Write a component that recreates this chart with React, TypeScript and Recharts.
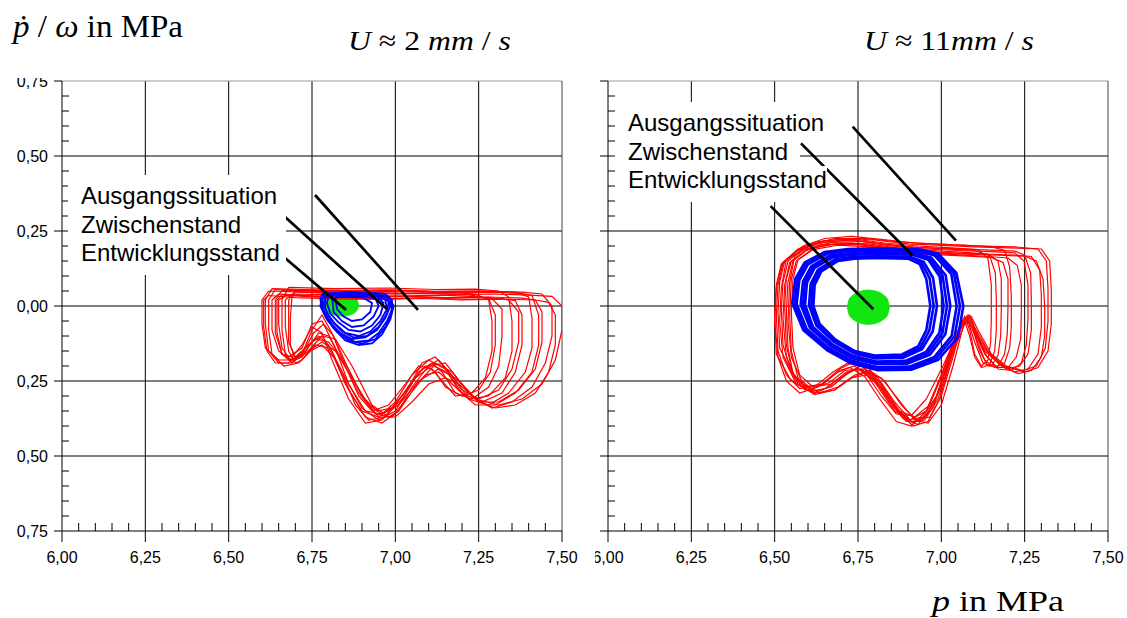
import React from 'react';
import { ComposedChart, Line, Area, XAxis, YAxis, CartesianGrid, ReferenceLine } from 'recharts';

type Pt = [number, number];

// axis ticks (every 0.05, labelled every 0.25)
const xTicks = [
  6.0, 6.05, 6.1, 6.15, 6.2, 6.25, 6.3, 6.35, 6.4, 6.45, 6.5, 6.55, 6.6, 6.65, 6.7, 6.75,
  6.8, 6.85, 6.9, 6.95, 7.0, 7.05, 7.1, 7.15, 7.2, 7.25, 7.3, 7.35, 7.4, 7.45, 7.5,
];
const yTicks = [
  -0.75, -0.7, -0.65, -0.6, -0.55, -0.5, -0.45, -0.4, -0.35, -0.3, -0.25, -0.2, -0.15, -0.1, -0.05, 0,
  0.05, 0.1, 0.15, 0.2, 0.25, 0.3, 0.35, 0.4, 0.45, 0.5, 0.55, 0.6, 0.65, 0.7, 0.75,
];
const gridX = [6.25, 6.5, 6.75, 7.0, 7.25];
const gridY = [-0.5, -0.25, 0, 0.25, 0.5];

const noteLabels = ['Ausgangssituation', 'Zwischenstand', 'Entwicklungsstand'];

// ---- U ~ 2 mm/s : Ausgangssituation (red)
const leftRed1: Pt[] = [[6.62,0.05],[6.7,0.047],[6.8,0.043],[6.9,0.045],[7.0,0.04],[7.1,0.042],[7.2,0.038],[7.3,0.04],[7.4,0.036],[7.47,0.032],[7.5,0.0],[7.5,-0.08],[7.48,-0.18],[7.44,-0.26],[7.38,-0.31],[7.31,-0.33],[7.24,-0.31],[7.18,-0.24],[7.13,-0.21],[7.07,-0.25],[7.01,-0.33],[6.96,-0.36],[6.92,-0.33],[6.87,-0.24],[6.82,-0.15],[6.78,-0.12],[6.74,-0.15],[6.7,-0.18],[6.65,-0.18],[6.61,-0.14],[6.6,-0.06],[6.6,0.02],[6.62,0.05]];
const leftRed2: Pt[] = [[6.63,0.058],[6.72,0.055],[6.85,0.052],[6.98,0.054],[7.12,0.049],[7.25,0.05],[7.38,0.046],[7.44,0.04],[7.47,0.0],[7.47,-0.1],[7.45,-0.19],[7.41,-0.27],[7.35,-0.32],[7.29,-0.34],[7.23,-0.3],[7.17,-0.22],[7.12,-0.19],[7.06,-0.24],[7.0,-0.35],[6.95,-0.38],[6.9,-0.34],[6.85,-0.24],[6.8,-0.13],[6.77,-0.1],[6.73,-0.14],[6.69,-0.19],[6.65,-0.19],[6.62,-0.15],[6.61,-0.06],[6.61,0.02],[6.63,0.058]];
const leftRed3: Pt[] = [[6.65,0.04],[6.75,0.034],[6.88,0.03],[7.0,0.033],[7.15,0.028],[7.28,0.03],[7.38,0.026],[7.42,0.02],[7.44,-0.02],[7.44,-0.12],[7.42,-0.21],[7.37,-0.28],[7.31,-0.32],[7.25,-0.32],[7.2,-0.26],[7.15,-0.19],[7.1,-0.2],[7.05,-0.27],[7.01,-0.35],[6.98,-0.37],[6.93,-0.33],[6.87,-0.2],[6.82,-0.11],[6.78,-0.1],[6.73,-0.16],[6.68,-0.18],[6.65,-0.15],[6.63,-0.08],[6.63,0.02],[6.65,0.04]];
const leftRed4: Pt[] = [[6.66,0.052],[6.78,0.05],[6.92,0.047],[7.05,0.05],[7.18,0.045],[7.3,0.046],[7.37,0.042],[7.4,0.03],[7.41,-0.04],[7.41,-0.14],[7.39,-0.22],[7.34,-0.29],[7.28,-0.33],[7.22,-0.31],[7.17,-0.23],[7.13,-0.18],[7.08,-0.21],[7.02,-0.3],[6.96,-0.38],[6.91,-0.39],[6.86,-0.31],[6.81,-0.18],[6.78,-0.09],[6.75,-0.07],[6.72,-0.13],[6.69,-0.17],[6.66,-0.16],[6.64,-0.09],[6.64,0.02],[6.66,0.052]];
const leftRed5: Pt[] = [[6.67,0.035],[6.8,0.028],[6.95,0.024],[7.1,0.027],[7.22,0.022],[7.32,0.024],[7.36,0.018],[7.38,-0.03],[7.38,-0.13],[7.36,-0.22],[7.32,-0.29],[7.26,-0.32],[7.2,-0.29],[7.15,-0.21],[7.1,-0.18],[7.05,-0.23],[7.0,-0.32],[6.96,-0.36],[6.91,-0.35],[6.86,-0.26],[6.82,-0.14],[6.78,-0.05],[6.75,-0.06],[6.72,-0.14],[6.68,-0.17],[6.66,-0.14],[6.65,-0.06],[6.65,0.02],[6.67,0.035]];
const leftRed6: Pt[] = [[6.68,0.062],[6.82,0.058],[6.98,0.06],[7.12,0.055],[7.24,0.056],[7.31,0.05],[7.34,0.03],[7.35,-0.05],[7.35,-0.15],[7.33,-0.24],[7.28,-0.3],[7.22,-0.31],[7.17,-0.26],[7.13,-0.22],[7.09,-0.23],[7.04,-0.3],[6.99,-0.37],[6.94,-0.36],[6.89,-0.29],[6.84,-0.18],[6.8,-0.1],[6.77,-0.09],[6.73,-0.15],[6.69,-0.19],[6.67,-0.16],[6.66,-0.08],[6.66,0.02],[6.68,0.062]];
const leftRed7: Pt[] = [[6.69,0.04],[6.84,0.036],[7.0,0.033],[7.14,0.036],[7.24,0.031],[7.29,0.025],[7.32,-0.01],[7.32,-0.1],[7.31,-0.2],[7.28,-0.27],[7.23,-0.31],[7.18,-0.29],[7.14,-0.22],[7.11,-0.19],[7.07,-0.22],[7.02,-0.31],[6.97,-0.37],[6.92,-0.38],[6.88,-0.33],[6.84,-0.22],[6.8,-0.14],[6.76,-0.13],[6.72,-0.18],[6.7,-0.19],[6.68,-0.15],[6.67,-0.07],[6.67,0.02],[6.69,0.04]];
const leftRed8: Pt[] = [[6.7,0.05],[6.86,0.046],[7.02,0.043],[7.16,0.045],[7.24,0.04],[7.28,0.02],[7.29,-0.05],[7.29,-0.15],[7.27,-0.24],[7.23,-0.29],[7.18,-0.3],[7.14,-0.25],[7.11,-0.21],[7.07,-0.2],[7.03,-0.26],[6.98,-0.33],[6.93,-0.35],[6.89,-0.3],[6.85,-0.2],[6.81,-0.09],[6.78,-0.03],[6.75,-0.08],[6.72,-0.16],[6.7,-0.17],[6.68,-0.12],[6.68,0.02],[6.7,0.05]];
const leftRed9: Pt[] = [[6.62,0.035],[6.7,0.028],[6.82,0.024],[6.95,0.022],[7.08,0.025],[7.2,0.02],[7.32,0.023],[7.42,0.02],[7.46,0.012],[7.48,-0.03],[7.48,-0.13],[7.46,-0.22],[7.42,-0.29],[7.36,-0.33],[7.3,-0.34],[7.25,-0.32],[7.19,-0.26],[7.15,-0.24],[7.1,-0.26],[7.05,-0.32],[7.0,-0.37],[6.95,-0.37],[6.9,-0.3],[6.85,-0.19],[6.8,-0.12],[6.76,-0.11],[6.72,-0.15],[6.68,-0.19],[6.64,-0.19],[6.615,-0.15],[6.605,-0.07],[6.605,0.02],[6.62,0.035]];
const leftRed10: Pt[] = [[6.64,0.055],[6.74,0.053],[6.86,0.05],[6.99,0.052],[7.12,0.048],[7.25,0.05],[7.36,0.046],[7.41,0.035],[7.43,-0.03],[7.43,-0.13],[7.41,-0.22],[7.36,-0.29],[7.3,-0.33],[7.24,-0.33],[7.19,-0.28],[7.155,-0.22],[7.115,-0.2],[7.065,-0.26],[7.01,-0.35],[6.96,-0.39],[6.91,-0.37],[6.86,-0.28],[6.815,-0.17],[6.78,-0.13],[6.745,-0.15],[6.71,-0.19],[6.665,-0.2],[6.63,-0.16],[6.62,-0.08],[6.62,0.02],[6.64,0.055]];
const leftRed11: Pt[] = [[6.66,0.038],[6.77,0.032],[6.9,0.029],[7.03,0.032],[7.16,0.027],[7.28,0.029],[7.34,0.02],[7.37,-0.02],[7.37,-0.12],[7.35,-0.21],[7.31,-0.28],[7.25,-0.31],[7.2,-0.28],[7.16,-0.22],[7.12,-0.17],[7.08,-0.19],[7.04,-0.27],[6.99,-0.34],[6.945,-0.35],[6.9,-0.3],[6.855,-0.2],[6.815,-0.1],[6.785,-0.06],[6.755,-0.09],[6.725,-0.15],[6.69,-0.18],[6.66,-0.16],[6.645,-0.09],[6.645,0.02],[6.66,0.038]];
const leftRed12: Pt[] = [[6.7,0.048],[6.82,0.042],[6.96,0.04],[7.1,0.043],[7.22,0.038],[7.28,0.025],[7.3,-0.03],[7.3,-0.13],[7.285,-0.22],[7.25,-0.28],[7.2,-0.3],[7.15,-0.27],[7.12,-0.22],[7.09,-0.2],[7.05,-0.25],[7.0,-0.33],[6.95,-0.37],[6.9,-0.35],[6.85,-0.26],[6.81,-0.15],[6.78,-0.1],[6.75,-0.12],[6.72,-0.17],[6.7,-0.18],[6.685,-0.13],[6.685,-0.04],[6.69,0.03],[6.7,0.048]];

// ---- U ~ 2 mm/s : Zwischenstand (blue)
const leftBlue1: Pt[] = [[6.78,0.04],[6.85,0.045],[6.92,0.045],[6.97,0.04],[6.99,0.02],[6.99,-0.01],[6.975,-0.05],[6.95,-0.09],[6.92,-0.115],[6.88,-0.12],[6.84,-0.1],[6.81,-0.06],[6.785,-0.02],[6.775,0.02],[6.78,0.04]];
const leftBlue2: Pt[] = [[6.785,0.04],[6.86,0.045],[6.93,0.042],[6.975,0.03],[6.985,0.0],[6.97,-0.04],[6.945,-0.08],[6.91,-0.105],[6.87,-0.11],[6.835,-0.09],[6.805,-0.055],[6.785,-0.015],[6.78,0.02],[6.785,0.04]];
const leftBlue3: Pt[] = [[6.79,0.04],[6.87,0.04],[6.94,0.038],[6.97,0.02],[6.975,-0.01],[6.955,-0.05],[6.925,-0.085],[6.89,-0.1],[6.85,-0.09],[6.82,-0.06],[6.795,-0.025],[6.785,0.01],[6.79,0.04]];
const leftBlue4: Pt[] = [[6.8,0.038],[6.88,0.04],[6.945,0.033],[6.965,0.01],[6.955,-0.03],[6.93,-0.065],[6.895,-0.085],[6.86,-0.08],[6.83,-0.055],[6.805,-0.025],[6.795,0.01],[6.8,0.038]];
const leftBlue5: Pt[] = [[6.78,0.035],[6.84,0.04],[6.93,0.04],[6.98,0.03],[6.995,0.0],[6.985,-0.045],[6.96,-0.095],[6.93,-0.125],[6.89,-0.13],[6.85,-0.115],[6.815,-0.075],[6.79,-0.035],[6.775,0.0],[6.78,0.035]];
const leftBlue6: Pt[] = [[6.79,0.035],[6.86,0.038],[6.95,0.036],[6.98,0.015],[6.975,-0.025],[6.95,-0.07],[6.915,-0.1],[6.875,-0.105],[6.84,-0.085],[6.81,-0.05],[6.79,-0.01],[6.79,0.035]];
const leftBlue7: Pt[] = [[6.81,0.035],[6.89,0.036],[6.94,0.025],[6.95,0.0],[6.935,-0.035],[6.905,-0.065],[6.87,-0.07],[6.84,-0.05],[6.815,-0.02],[6.81,0.035]];
const leftBlue8: Pt[] = [[6.82,0.03],[6.9,0.03],[6.93,0.01],[6.925,-0.02],[6.9,-0.045],[6.87,-0.05],[6.845,-0.035],[6.825,-0.01],[6.82,0.03]];
const leftBlue9: Pt[] = [[6.78,0.03],[6.85,0.042],[6.94,0.042],[6.985,0.025],[6.99,-0.02],[6.97,-0.07],[6.94,-0.11],[6.9,-0.125],[6.86,-0.115],[6.825,-0.085],[6.795,-0.045],[6.78,0.0],[6.78,0.03]];

// ---- U ~ 2 mm/s : Entwicklungsstand (green, filled)
const leftGreenX = [6.79, 6.795, 6.805, 6.82, 6.84, 6.86, 6.875, 6.885, 6.89];
const leftGreenLo = [0.003, -0.014, -0.024, -0.031, -0.034, -0.031, -0.024, -0.014, 0.003];
const leftGreenHi = [0.003, 0.02, 0.03, 0.037, 0.04, 0.037, 0.03, 0.02, 0.003];

const leftLeaderA: Pt[] = [[6.759, 0.37], [7.068, -0.013]];
const leftLeaderZ: Pt[] = [[6.666, 0.3], [6.975, -0.01]];
const leftLeaderE: Pt[] = [[6.669, 0.16], [6.852, -0.013]];

// ---- U ~ 11 mm/s : Ausgangssituation (red)
const rightRed1: Pt[] = [[6.52,0.14],[6.57,0.19],[6.63,0.215],[6.72,0.225],[6.8,0.22],[6.9,0.207],[7.0,0.202],[7.1,0.197],[7.2,0.194],[7.3,0.19],[7.325,0.15],[7.33,0.05],[7.33,-0.06],[7.32,-0.15],[7.29,-0.205],[7.25,-0.22],[7.19,-0.2],[7.13,-0.15],[7.09,-0.05],[7.07,-0.06],[7.03,-0.17],[6.99,-0.31],[6.95,-0.38],[6.91,-0.385],[6.86,-0.32],[6.81,-0.24],[6.76,-0.2],[6.72,-0.22],[6.67,-0.27],[6.61,-0.285],[6.55,-0.25],[6.505,-0.16],[6.5,-0.03],[6.505,0.07],[6.52,0.14]];
const rightRed2: Pt[] = [[6.53,0.15],[6.58,0.185],[6.64,0.205],[6.73,0.21],[6.82,0.195],[6.92,0.182],[7.02,0.178],[7.12,0.173],[7.22,0.17],[7.27,0.165],[7.295,0.12],[7.3,0.04],[7.3,-0.07],[7.29,-0.16],[7.26,-0.21],[7.22,-0.22],[7.17,-0.19],[7.12,-0.13],[7.085,-0.04],[7.065,-0.07],[7.035,-0.2],[7.0,-0.33],[6.96,-0.39],[6.92,-0.38],[6.87,-0.31],[6.82,-0.24],[6.775,-0.22],[6.73,-0.24],[6.68,-0.28],[6.62,-0.29],[6.56,-0.24],[6.515,-0.14],[6.51,-0.02],[6.515,0.08],[6.53,0.15]];
const rightRed3: Pt[] = [[6.54,0.15],[6.59,0.195],[6.66,0.215],[6.74,0.22],[6.83,0.205],[6.93,0.195],[7.03,0.191],[7.13,0.187],[7.22,0.183],[7.25,0.17],[7.268,0.11],[7.27,0.02],[7.27,-0.08],[7.26,-0.16],[7.235,-0.2],[7.195,-0.21],[7.15,-0.17],[7.11,-0.1],[7.08,-0.03],[7.055,-0.08],[7.01,-0.21],[6.965,-0.33],[6.92,-0.37],[6.875,-0.35],[6.83,-0.28],[6.785,-0.21],[6.74,-0.185],[6.695,-0.21],[6.645,-0.26],[6.59,-0.27],[6.55,-0.22],[6.525,-0.13],[6.52,-0.01],[6.525,0.08],[6.54,0.15]];
const rightRed4: Pt[] = [[6.55,0.15],[6.6,0.19],[6.67,0.205],[6.75,0.205],[6.84,0.19],[6.94,0.177],[7.04,0.171],[7.14,0.165],[7.2,0.16],[7.228,0.135],[7.24,0.07],[7.24,-0.02],[7.238,-0.11],[7.225,-0.17],[7.2,-0.205],[7.165,-0.205],[7.13,-0.16],[7.1,-0.09],[7.075,-0.035],[7.055,-0.08],[7.015,-0.21],[6.975,-0.34],[6.93,-0.395],[6.885,-0.375],[6.835,-0.3],[6.79,-0.225],[6.745,-0.21],[6.695,-0.24],[6.645,-0.28],[6.59,-0.28],[6.555,-0.23],[6.535,-0.13],[6.53,0.0],[6.535,0.09],[6.55,0.15]];
const rightRed5: Pt[] = [[6.56,0.165],[6.61,0.205],[6.68,0.225],[6.77,0.225],[6.86,0.215],[6.96,0.208],[7.06,0.203],[7.15,0.198],[7.19,0.185],[7.205,0.13],[7.21,0.03],[7.21,-0.07],[7.205,-0.14],[7.19,-0.19],[7.16,-0.205],[7.13,-0.18],[7.105,-0.11],[7.08,-0.04],[7.06,-0.05],[7.04,-0.15],[7.0,-0.3],[6.965,-0.37],[6.925,-0.38],[6.88,-0.33],[6.83,-0.25],[6.785,-0.215],[6.74,-0.23],[6.69,-0.27],[6.635,-0.29],[6.585,-0.26],[6.55,-0.17],[6.54,-0.05],[6.545,0.08],[6.56,0.165]];
const rightRed6: Pt[] = [[6.57,0.155],[6.62,0.195],[6.7,0.21],[6.78,0.207],[6.87,0.193],[6.97,0.185],[7.07,0.179],[7.14,0.173],[7.17,0.15],[7.18,0.09],[7.18,-0.01],[7.178,-0.1],[7.17,-0.165],[7.15,-0.2],[7.125,-0.19],[7.1,-0.12],[7.08,-0.05],[7.06,-0.06],[7.025,-0.17],[6.985,-0.3],[6.945,-0.37],[6.9,-0.38],[6.855,-0.33],[6.805,-0.25],[6.76,-0.21],[6.715,-0.22],[6.67,-0.26],[6.615,-0.27],[6.575,-0.23],[6.555,-0.14],[6.55,-0.02],[6.555,0.09],[6.57,0.155]];
const rightRed7: Pt[] = [[6.525,0.145],[6.575,0.19],[6.65,0.218],[6.74,0.223],[6.83,0.21],[6.93,0.2],[7.03,0.194],[7.11,0.188],[7.14,0.158],[7.15,0.07],[7.15,-0.04],[7.148,-0.12],[7.14,-0.18],[7.12,-0.2],[7.1,-0.16],[7.085,-0.08],[7.07,-0.035],[7.05,-0.08],[7.0,-0.23],[6.955,-0.35],[6.905,-0.38],[6.86,-0.35],[6.81,-0.27],[6.765,-0.2],[6.72,-0.19],[6.675,-0.22],[6.625,-0.265],[6.575,-0.275],[6.535,-0.23],[6.51,-0.15],[6.505,-0.03],[6.51,0.07],[6.525,0.145]];
const rightRed8: Pt[] = [[6.545,0.145],[6.595,0.185],[6.66,0.205],[6.75,0.208],[6.85,0.193],[6.95,0.178],[7.05,0.174],[7.15,0.17],[7.25,0.166],[7.285,0.15],[7.305,0.09],[7.31,0.0],[7.31,-0.1],[7.3,-0.17],[7.27,-0.215],[7.23,-0.225],[7.18,-0.2],[7.14,-0.15],[7.1,-0.07],[7.085,-0.03],[7.065,-0.05],[7.03,-0.17],[6.995,-0.31],[6.96,-0.385],[6.915,-0.4],[6.87,-0.35],[6.82,-0.27],[6.775,-0.23],[6.73,-0.24],[6.68,-0.28],[6.62,-0.295],[6.57,-0.26],[6.535,-0.17],[6.525,-0.04],[6.53,0.07],[6.545,0.145]];
const rightRed9: Pt[] = [[6.535,0.155],[6.585,0.2],[6.65,0.225],[6.73,0.232],[6.82,0.222],[6.92,0.21],[7.02,0.205],[7.12,0.2],[7.22,0.197],[7.29,0.19],[7.315,0.15],[7.32,0.06],[7.32,-0.05],[7.312,-0.14],[7.285,-0.2],[7.245,-0.215],[7.195,-0.2],[7.15,-0.16],[7.11,-0.08],[7.09,-0.035],[7.07,-0.045],[7.035,-0.14],[6.995,-0.28],[6.955,-0.365],[6.915,-0.39],[6.87,-0.345],[6.82,-0.26],[6.77,-0.21],[6.73,-0.215],[6.68,-0.26],[6.62,-0.29],[6.565,-0.26],[6.525,-0.17],[6.515,-0.05],[6.52,0.06],[6.535,0.155]];
const rightRed10: Pt[] = [[6.555,0.15],[6.6,0.19],[6.67,0.212],[6.76,0.215],[6.85,0.2],[6.95,0.19],[7.05,0.185],[7.15,0.181],[7.22,0.177],[7.248,0.15],[7.26,0.07],[7.26,-0.04],[7.255,-0.13],[7.24,-0.19],[7.21,-0.215],[7.17,-0.21],[7.135,-0.165],[7.105,-0.095],[7.08,-0.045],[7.055,-0.075],[7.005,-0.2],[6.955,-0.31],[6.91,-0.365],[6.865,-0.36],[6.82,-0.3],[6.78,-0.235],[6.74,-0.2],[6.695,-0.215],[6.645,-0.26],[6.59,-0.27],[6.555,-0.225],[6.54,-0.14],[6.535,-0.02],[6.54,0.08],[6.555,0.15]];
const rightRed11: Pt[] = [[6.565,0.15],[6.615,0.188],[6.69,0.203],[6.775,0.198],[6.865,0.183],[6.965,0.172],[7.065,0.167],[7.15,0.162],[7.185,0.145],[7.2,0.09],[7.2,0.0],[7.198,-0.09],[7.19,-0.16],[7.17,-0.2],[7.14,-0.2],[7.115,-0.15],[7.095,-0.08],[7.075,-0.04],[7.055,-0.07],[7.02,-0.19],[6.98,-0.32],[6.94,-0.385],[6.895,-0.385],[6.85,-0.33],[6.8,-0.25],[6.755,-0.21],[6.71,-0.215],[6.665,-0.255],[6.61,-0.275],[6.57,-0.24],[6.55,-0.15],[6.545,-0.03],[6.55,0.09],[6.565,0.15]];
const rightRed12: Pt[] = [[6.52,0.135],[6.565,0.183],[6.635,0.21],[6.725,0.22],[6.815,0.208],[6.915,0.196],[7.015,0.19],[7.1,0.185],[7.145,0.168],[7.162,0.11],[7.165,0.02],[7.165,-0.08],[7.16,-0.15],[7.145,-0.195],[7.12,-0.205],[7.1,-0.17],[7.085,-0.1],[7.07,-0.05],[7.045,-0.1],[7.0,-0.23],[6.955,-0.35],[6.91,-0.4],[6.865,-0.385],[6.815,-0.31],[6.77,-0.235],[6.725,-0.205],[6.68,-0.225],[6.63,-0.27],[6.575,-0.29],[6.535,-0.25],[6.51,-0.17],[6.5,-0.05],[6.505,0.06],[6.52,0.135]];

// ---- U ~ 11 mm/s : Zwischenstand (blue ring)
const rightBlue1: Pt[] = [[6.8,0.192],[6.93,0.19],[6.99,0.175],[7.045,0.11],[7.066,0.0],[7.05,-0.104],[6.99,-0.18],[6.91,-0.212],[6.81,-0.214],[6.727,-0.19],[6.658,-0.148],[6.586,-0.081],[6.553,0.009],[6.562,0.09],[6.59,0.145],[6.65,0.18],[6.72,0.19],[6.8,0.192]];
const rightBlue2: Pt[] = [[6.8,0.186],[6.925,0.184],[6.98,0.168],[7.03,0.106],[7.046,0.0],[7.031,-0.099],[6.978,-0.171],[6.904,-0.202],[6.808,-0.204],[6.73,-0.182],[6.662,-0.14],[6.596,-0.077],[6.566,0.007],[6.574,0.086],[6.6,0.139],[6.658,0.174],[6.724,0.184],[6.8,0.186]];
const rightBlue3: Pt[] = [[6.8,0.18],[6.919,0.177],[6.97,0.161],[7.013,0.102],[7.027,0.0],[7.012,-0.094],[6.966,-0.162],[6.898,-0.192],[6.806,-0.194],[6.732,-0.174],[6.667,-0.133],[6.606,-0.073],[6.578,0.005],[6.585,0.082],[6.61,0.133],[6.666,0.168],[6.728,0.177],[6.8,0.18]];
const rightBlue4: Pt[] = [[6.8,0.173],[6.912,0.171],[6.961,0.154],[6.995,0.098],[7.007,0.0],[6.994,-0.09],[6.954,-0.153],[6.892,-0.183],[6.804,-0.185],[6.735,-0.166],[6.671,-0.126],[6.615,-0.07],[6.591,0.004],[6.597,0.078],[6.62,0.127],[6.674,0.162],[6.732,0.171],[6.8,0.173]];
const rightBlue5: Pt[] = [[6.8,0.166],[6.906,0.164],[6.947,0.147],[6.975,0.094],[6.987,0.0],[6.974,-0.085],[6.942,-0.144],[6.886,-0.172],[6.802,-0.175],[6.738,-0.158],[6.676,-0.118],[6.625,-0.065],[6.603,0.002],[6.608,0.074],[6.63,0.121],[6.682,0.156],[6.736,0.164],[6.8,0.166]];
const rightBlue6: Pt[] = [[6.8,0.16],[6.9,0.158],[6.935,0.14],[6.955,0.09],[6.967,0.0],[6.955,-0.08],[6.93,-0.135],[6.88,-0.162],[6.8,-0.165],[6.74,-0.15],[6.68,-0.11],[6.635,-0.06],[6.616,0.0],[6.62,0.07],[6.64,0.115],[6.69,0.15],[6.74,0.158],[6.8,0.16]];
const rightBlue7: Pt[] = [[6.8,0.189],[6.928,0.187],[6.985,0.172],[7.038,0.108],[7.056,0.0],[7.04,-0.101],[6.984,-0.175],[6.907,-0.207],[6.809,-0.209],[6.728,-0.186],[6.66,-0.144],[6.591,-0.079],[6.56,0.008],[6.568,0.088],[6.595,0.142],[6.654,0.177],[6.722,0.187],[6.8,0.189]];
const rightBlue8: Pt[] = [[6.8,0.176],[6.915,0.174],[6.965,0.157],[7.004,0.1],[7.017,0.0],[7.003,-0.092],[6.96,-0.157],[6.895,-0.187],[6.805,-0.19],[6.733,-0.17],[6.669,-0.13],[6.61,-0.072],[6.585,0.004],[6.591,0.08],[6.615,0.13],[6.67,0.165],[6.73,0.174],[6.8,0.176]];
const rightBlue9: Pt[] = [[6.8,0.163],[6.903,0.161],[6.941,0.143],[6.965,0.092],[6.977,0.0],[6.964,-0.082],[6.936,-0.14],[6.883,-0.167],[6.801,-0.17],[6.739,-0.154],[6.678,-0.114],[6.63,-0.062],[6.61,0.001],[6.614,0.072],[6.635,0.118],[6.686,0.153],[6.738,0.161],[6.8,0.163]];

// ---- U ~ 11 mm/s : Entwicklungsstand (green, filled)
const rightGreenX = [6.718, 6.724, 6.735, 6.755, 6.781, 6.807, 6.827, 6.838, 6.844];
const rightGreenLo = [-0.004, -0.031, -0.044, -0.056, -0.061, -0.056, -0.044, -0.031, -0.004];
const rightGreenHi = [-0.004, 0.023, 0.036, 0.048, 0.053, 0.048, 0.036, 0.023, -0.004];

const rightLeaderA: Pt[] = [[6.734, 0.598], [7.044, 0.218]];
const rightLeaderZ: Pt[] = [[6.579, 0.542], [6.913, 0.169]];
const rightLeaderE: Pt[] = [[6.488, 0.333], [6.796, -0.011]];

const rows = (pts: Pt[]) => pts.map(([x, y]) => ({ x, y }));
const rangeRows = (xs: number[], lo: number[], hi: number[]) =>
  xs.map((x, i) => ({ x, r: [lo[i], hi[i]] }));

const isMajor = (v: number) => Math.abs(v * 4 - Math.round(v * 4)) < 1e-6;
const fmt = (v: number) => Math.abs(v).toFixed(2).replace('.', ',');

const SANS = '"Liberation Sans", Arial, sans-serif';
const SERIF = '"Liberation Serif", "Times New Roman", serif';
const tickText = { fontSize: '16px', fontFamily: SANS };

function XTick(props: any) {
  const { x, y, payload } = props;
  const v = payload.value as number;
  if (!isMajor(v)) return <line x1={x} y1={y} x2={x} y2={y - 8} stroke="#000" />;
  return (
    <g>
      <line x1={x} y1={y} x2={x} y2={y + 11} stroke="#000" />
      <text x={x} y={y + 32} textAnchor="middle" style={tickText} fill="#000">
        {fmt(v)}
      </text>
    </g>
  );
}

function YTick(props: any) {
  const { x, y, payload, labels } = props;
  const v = payload.value as number;
  if (!isMajor(v)) return <line x1={x} y1={y} x2={x + 7} y2={y} stroke="#000" />;
  return (
    <g>
      <line x1={x - 8} y1={y} x2={x} y2={y} stroke="#000" />
      {labels && (
        <text x={x - 14} y={y + 5.5} textAnchor="end" style={tickText} fill="#000">
          {fmt(v)}
        </text>
      )}
    </g>
  );
}

interface PanelProps {
  red: Pt[][];
  blue: Pt[][];
  blueWidth: number;
  green: { x: number; r: number[] }[];
  leaders: Pt[][];
  yLabels: boolean;
}

function Panel({ red, blue, blueWidth, green, leaders, yLabels }: PanelProps) {
  return (
    <ComposedChart width={580} height={580} margin={{ top: 81, right: 18, left: 12, bottom: 0 }}>
      <CartesianGrid horizontalValues={gridY} verticalValues={gridX} stroke="#000" fill="none" />
      <XAxis
        dataKey="x"
        type="number"
        domain={[6, 7.5]}
        ticks={xTicks}
        interval={0}
        tickSize={0}
        tickMargin={0}
        height={49}
        allowDataOverflow
        axisLine={{ stroke: '#000' }}
        tick={(p: any) => <XTick {...p} />}
      />
      <YAxis
        type="number"
        domain={[-0.75, 0.75]}
        ticks={yTicks}
        interval={0}
        tickSize={0}
        tickMargin={0}
        width={50}
        allowDataOverflow
        axisLine={{ stroke: '#000' }}
        tick={(p: any) => <YTick {...p} labels={yLabels} />}
      />
      <ReferenceLine y={0.75} stroke="#9a9a9a" />
      <ReferenceLine x={7.5} stroke="#444" />
      {red.map((loop, i) => (
        <Line key={'r' + i} data={rows(loop)} dataKey="y" type="linear" stroke="#ff0000" strokeWidth={1.2}
          dot={false} activeDot={false} isAnimationActive={false} />
      ))}
      {blue.map((loop, i) => (
        <Line key={'b' + i} data={rows(loop)} dataKey="y" type="linear" stroke="#0000ff" strokeWidth={blueWidth}
          dot={false} activeDot={false} isAnimationActive={false} />
      ))}
      <Area data={green} dataKey="r" type="monotone" stroke="#11e611" fill="#11e611" fillOpacity={1}
        dot={false} activeDot={false} isAnimationActive={false} />
      {leaders.map((seg, i) => (
        <Line key={'l' + i} data={rows(seg)} dataKey="y" type="linear" stroke="#000" strokeWidth={2.7}
          dot={false} activeDot={false} isAnimationActive={false} />
      ))}
    </ComposedChart>
  );
}

function Notes({ left, top, minWidth }: { left: number; top: number; minWidth: number }) {
  return (
    <div style={{ position: 'absolute', left, top, fontFamily: SANS, fontSize: 24, lineHeight: '28.5px', color: '#000' }}>
      {noteLabels.map((t, i) => (
        <div
          key={t}
          style={{
            background: '#fff',
            width: 'fit-content',
            minWidth,
            whiteSpace: 'nowrap',
            paddingLeft: 13,
            paddingTop: i === 0 ? 7 : 0,
            paddingBottom: i === noteLabels.length - 1 ? 7 : 0,
          }}
        >
          {t}
        </div>
      ))}
    </div>
  );
}

export default function App() {
  return (
    <div style={{ position: 'fixed', left: 0, top: 0, width: 1127, height: 618, background: '#fff', overflow: 'hidden' }}>
      <div style={{ position: 'absolute', left: 0, top: 0 }}>
        <Panel
          red={[leftRed1, leftRed2, leftRed3, leftRed4, leftRed5, leftRed6, leftRed7, leftRed8, leftRed9, leftRed10, leftRed11, leftRed12]}
          blue={[leftBlue1, leftBlue2, leftBlue3, leftBlue4, leftBlue5, leftBlue6, leftBlue7, leftBlue8, leftBlue9]}
          blueWidth={1.8}
          green={rangeRows(leftGreenX, leftGreenLo, leftGreenHi)}
          leaders={[leftLeaderA, leftLeaderZ, leftLeaderE]}
          yLabels
        />
      </div>
      <div style={{ position: 'absolute', left: 546, top: 0 }}>
        <Panel
          red={[rightRed1, rightRed2, rightRed3, rightRed4, rightRed5, rightRed6, rightRed7, rightRed8, rightRed9, rightRed10, rightRed11, rightRed12]}
          blue={[rightBlue1, rightBlue7, rightBlue2, rightBlue3, rightBlue8, rightBlue4, rightBlue5, rightBlue9, rightBlue6]}
          blueWidth={2.6}
          green={rangeRows(rightGreenX, rightGreenLo, rightGreenHi)}
          leaders={[rightLeaderA, rightLeaderZ, rightLeaderE]}
          yLabels={false}
        />
      </div>

      {/* the source figure is cropped: top y label and first right x label are cut */}
      <div style={{ position: 'absolute', left: 0, top: 0, width: 58, height: 78, background: '#fff' }} />
      <div style={{ position: 'absolute', left: 580, top: 545, width: 15, height: 25, background: '#fff' }} />

      <Notes left={68} top={175} minWidth={205} />
      <Notes left={615} top={102} minWidth={172} />

      <svg width={1127} height={618} style={{ position: 'absolute', left: 0, top: 0, pointerEvents: 'none' }}>
        <g fontFamily={SERIF} fill="#000" style={{ whiteSpace: 'pre' }}>
          <text x={13} y={37} fontSize={32} textLength={170} lengthAdjust="spacingAndGlyphs">
            <tspan fontStyle="italic">ṗ</tspan>
            <tspan>{' / '}</tspan>
            <tspan fontStyle="italic">ω</tspan>
            <tspan>{' in MPa'}</tspan>
          </text>
          <text x={348} y={50} fontSize={28} textLength={163} lengthAdjust="spacingAndGlyphs">
            <tspan fontStyle="italic">U</tspan>
            <tspan>{' ≈ 2 '}</tspan>
            <tspan fontStyle="italic">mm</tspan>
            <tspan>{'  / '}</tspan>
            <tspan fontStyle="italic">s</tspan>
          </text>
          <text x={864} y={50} fontSize={28} textLength={170} lengthAdjust="spacingAndGlyphs">
            <tspan fontStyle="italic">U</tspan>
            <tspan>{' ≈ 11'}</tspan>
            <tspan fontStyle="italic">mm</tspan>
            <tspan>{'  / '}</tspan>
            <tspan fontStyle="italic">s</tspan>
          </text>
          <text x={932} y={611} fontSize={29} textLength={132} lengthAdjust="spacingAndGlyphs">
            <tspan fontStyle="italic">p</tspan>
            <tspan>{' in MPa'}</tspan>
          </text>
        </g>
      </svg>
    </div>
  );
}
